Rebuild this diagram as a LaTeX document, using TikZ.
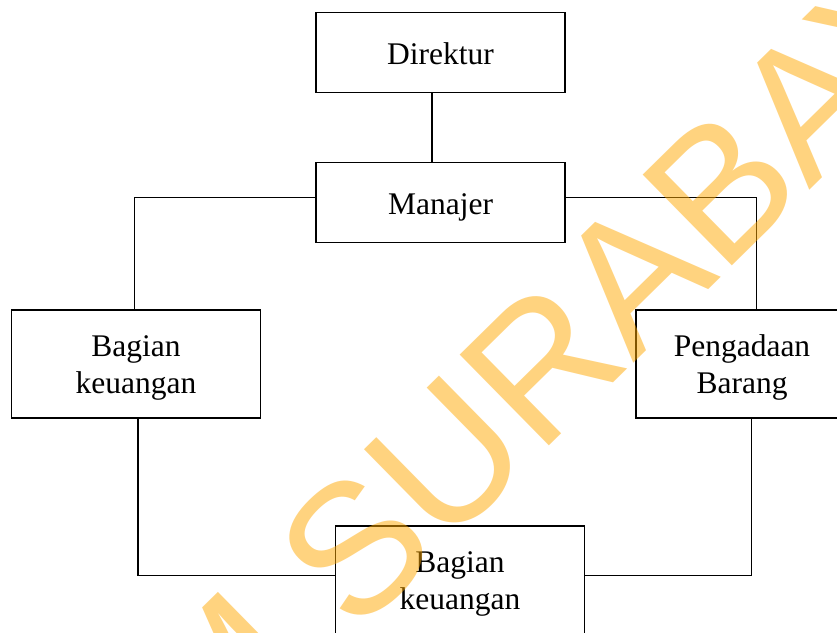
\documentclass[tikz,border=0pt]{standalone}
\usepackage{fontspec}
\setmainfont{Liberation Serif}
\newfontfamily\wmfont{Liberation Sans}
\definecolor{wmc}{RGB}{255,168,0}
\begin{document}
\begin{tikzpicture}[x=1pt,y=-1pt,
  box/.style={draw, line width=1.4pt, fill=white, inner sep=0pt,
    font=\fontsize{31.5}{37}\selectfont, text height=23pt, text depth=0pt,
    minimum width=249pt, minimum height=80pt},
  boxtwo/.style={box, text height=0pt, text depth=16pt, minimum height=108pt},
  link/.style={line width=1.4pt},
  wm/.style={font=\wmfont\fontsize{185}{185}\selectfont, text=wmc, opacity=0.5, inner sep=0pt}]
\useasboundingbox (0,0) rectangle (837,632);
\clip (0,0) rectangle (837,632);
\fill[white] (0,0) rectangle (837,632);
% boxes
\node[box] (dir) at (440.5,52.5) {Direktur};
\node[box] (man) at (440.5,202.5) {Manajer};
\node[boxtwo, minimum width=248.6pt] (kl) at (136,364)
  {\begin{tabular}[t]{@{}c@{}}Bagian\\keuangan\end{tabular}};
\node[boxtwo, minimum width=212pt] (pb) at (742,364)
  {\begin{tabular}[t]{@{}c@{}}Pengadaan\\Barang\end{tabular}};
\node[boxtwo, minimum width=248.6pt] (kb) at (460,580)
  {\begin{tabular}[t]{@{}c@{}}Bagian\\keuangan\end{tabular}};
% connector guides
\coordinate (cx) at (432,0);
\coordinate (ym) at (0,197.7);
\coordinate (xl) at (134.7,0);
\coordinate (xr) at (756.7,0);
\coordinate (yb) at (0,575.5);
\coordinate (xlb) at (138,0);
\coordinate (xrb) at (751.7,0);
% connectors
\draw[link] (dir.south -| cx) -- (man.north -| cx);
\draw[link] (man.west |- ym) -| (kl.north -| xl);
\draw[link] (man.east |- ym) -| (pb.north -| xr);
\draw[link] (kl.south -| xlb) |- (kb.west |- yb);
\draw[link] (kb.east |- yb) -| (pb.south -| xrb);
% watermark
\node[wm, anchor=base west, rotate=44.5] (wmk) at (355,637) {\llap{STIKOM\ }SURABAYA};
\end{tikzpicture}
\end{document}
